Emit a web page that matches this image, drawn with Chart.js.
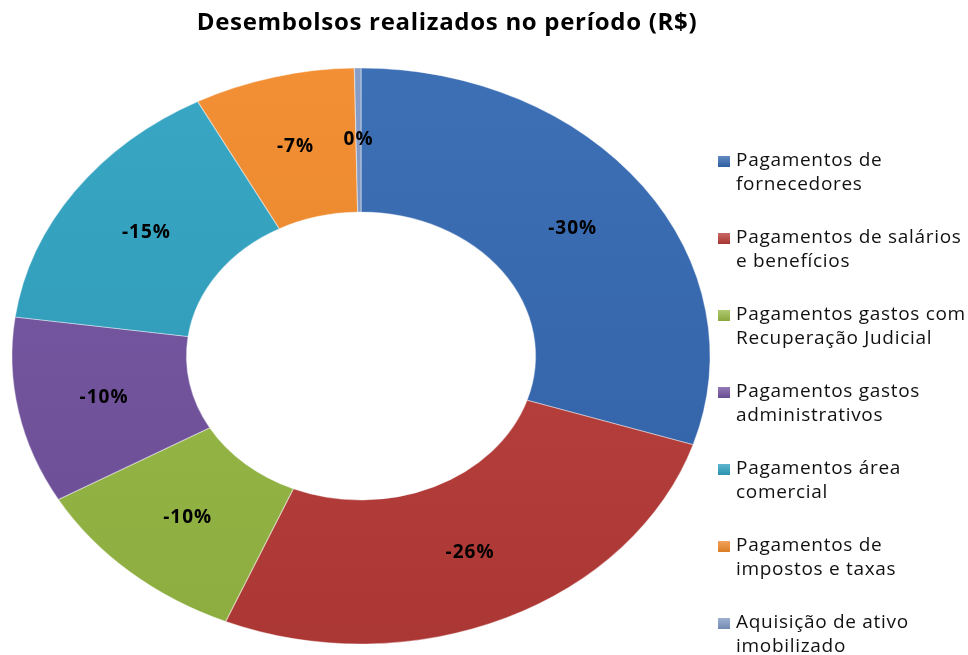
<!DOCTYPE html>
<html lang="pt-BR">
<head>
<meta charset="utf-8">
<title>Desembolsos realizados no período</title>
<script src="https://cdn.jsdelivr.net/npm/chart.js@4"></script>
<style>
    html, body { margin: 0; padding: 0; background: #fff; }
</style>
</head>
<body>
<canvas id="graficoDesembolsos" width="968" height="655"></canvas>
<script>
const titulo = 'Desembolsos realizados no período (R$)';

const categorias = [
    ['Pagamentos de', 'fornecedores'],
    ['Pagamentos de salários', 'e benefícios'],
    ['Pagamentos gastos com', 'Recuperação Judicial'],
    ['Pagamentos gastos', 'administrativos'],
    ['Pagamentos área', 'comercial'],
    ['Pagamentos de', 'impostos e taxas'],
    ['Aquisição de ativo', 'imobilizado']
];

// participação de cada desembolso no total (em %)
const valores = [-29.8, -26.2, -10.3, -10.4, -15.0, -7.4, -0.3];

const cores = ['#3468B2', '#BA3C38', '#98BB45', '#7353A1', '#2FA2C2', '#F28A2A', '#8199C6'];

// a rosca original é uma elipse, mais larga do que alta
const ESTICAR_X = 1.212;

function ajustarCor(hex, fator) {
    const n = parseInt(hex.slice(1), 16);
    let r = (n >> 16) & 255, g = (n >> 8) & 255, b = n & 255;
    const alvo = fator > 0 ? 255 : 0;
    const f = Math.abs(fator);
    r = Math.round(r + (alvo - r) * f);
    g = Math.round(g + (alvo - g) * f);
    b = Math.round(b + (alvo - b) * f);
    return `rgb(${r}, ${g}, ${b})`;
}

const esticarRosca = {
    id: 'esticarRosca',
    beforeDatasetsDraw(chart) {
        const arco = chart.getDatasetMeta(0).data[0];
        const ctx = chart.ctx;
        ctx.save();
        ctx.translate(arco.x, arco.y);
        ctx.scale(ESTICAR_X, 1);
        ctx.translate(-arco.x, -arco.y);
    },
    afterDatasetsDraw(chart) {
        chart.ctx.restore();
    }
};

const rotulosPorcentagem = {
    id: 'rotulosPorcentagem',
    afterDatasetsDraw(chart) {
        const ctx = chart.ctx;
        const meta = chart.getDatasetMeta(0);
        const total = valores.reduce((soma, v) => soma + Math.abs(v), 0);
        ctx.save();
        ctx.font = 'bold 19px "Open Sans"';
        ctx.letterSpacing = '1px';
        ctx.fillStyle = '#000';
        ctx.textAlign = 'center';
        ctx.textBaseline = 'middle';
        meta.data.forEach((arco, i) => {
            const p = arco.getCenterPoint();
            const x = arco.x + (p.x - arco.x) * ESTICAR_X;
            const pct = Math.round(valores[i] / total * 100);
            ctx.fillText((pct === 0 ? '0' : pct) + '%', x, p.y);
        });
        ctx.restore();
    }
};

const tituloELegenda = {
    id: 'tituloELegenda',
    afterDraw(chart) {
        const ctx = chart.ctx;
        ctx.save();
        ctx.fillStyle = '#000';
        ctx.textBaseline = 'middle';
        ctx.textAlign = 'center';
        ctx.font = 'bold 24px "Open Sans"';
        ctx.letterSpacing = '0.7px';
        ctx.fillText(titulo, 447, 23);

        ctx.textAlign = 'left';
        ctx.font = '19px "Open Sans"';
        ctx.letterSpacing = '0.7px';
        categorias.forEach((linhas, i) => {
            const y = 161 + 77 * i;
            const g = ctx.createLinearGradient(0, y - 6, 0, y + 6);
            g.addColorStop(0, ajustarCor(cores[i], 0.25));
            g.addColorStop(1, ajustarCor(cores[i], -0.1));
            ctx.fillStyle = g;
            ctx.fillRect(718, y - 5, 12, 11);
            ctx.fillStyle = '#111';
            linhas.forEach((linha, j) => ctx.fillText(linha, 736, y + j * 24));
        });
        ctx.restore();
    }
};

new Chart(document.getElementById('graficoDesembolsos'), {
    type: 'doughnut',
    data: {
        labels: categorias,
        datasets: [{
            data: valores,
            backgroundColor: (contexto) => {
                const area = contexto.chart.chartArea;
                const base = cores[contexto.dataIndex];
                if (!area || !base) return base;
                const g = contexto.chart.ctx.createLinearGradient(0, area.top, 0, area.bottom);
                g.addColorStop(0, ajustarCor(base, 0.05));
                g.addColorStop(1, ajustarCor(base, -0.08));
                return g;
            },
            borderColor: 'rgba(255, 255, 255, 0.4)',
            borderWidth: 1,
            clip: false
        }]
    },
    options: {
        responsive: false,
        animation: false,
        cutout: '50%',
        radius: 288,
        layout: {
            padding: { top: 57, right: 246, bottom: 0, left: 0 }
        },
        plugins: {
            legend: { display: false },
            title: { display: false },
            tooltip: { enabled: false }
        }
    },
    plugins: [esticarRosca, rotulosPorcentagem, tituloELegenda]
});
</script>
</body>
</html>
